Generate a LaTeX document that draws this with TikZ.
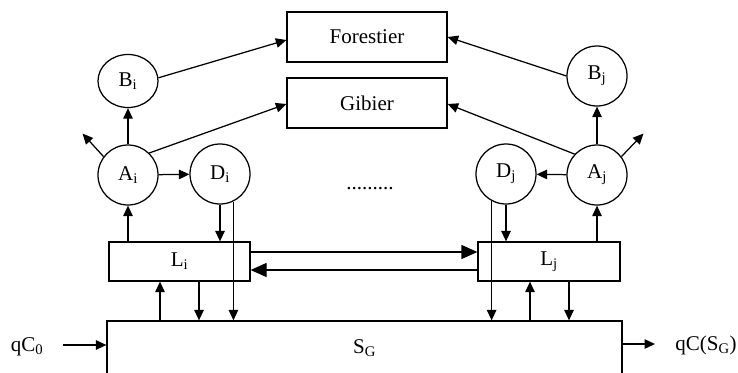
\documentclass[tikz,border=0pt]{standalone}
\usepackage{fontspec}
\setmainfont{Liberation Serif}
\usetikzlibrary{arrows.meta,calc,shapes.geometric}
\newcommand\mysb[1]{\textsubscript{#1}}
\begin{document}
\begin{tikzpicture}[x=1pt,y=-1pt, line width=1.25pt,
  font=\fontsize{21}{25}\selectfont,
  circ/.style={draw,circle,minimum size=60pt,inner sep=0pt},
  boxn/.style={draw,rectangle,inner sep=0pt},
  arr/.style={-{Triangle[length=10.5pt,width=9.5pt]}},
  bigarr/.style={-{Triangle[length=16pt,width=14pt]}}]
\useasboundingbox (0,0) rectangle (738,372);
\clip (0,0) rectangle (738,372);
% boxes
\node[boxn,minimum width=160pt,minimum height=50pt] (F) at (367,37) {Forestier};
\node[boxn,minimum width=160pt,minimum height=50pt] (G) at (367,103) {Gibier};
\node[boxn,minimum width=141pt,minimum height=39pt] (Li) at (179.5,261.5) {L\mysb{i}};
\node[boxn,minimum width=142pt,minimum height=39pt] (Lj) at (549,261.5) {L\mysb{j}};
\node[boxn,minimum width=515pt,minimum height=54pt] (SG) at (364.5,348) {S\mysb{G}};
% circles
\node[draw,ellipse,minimum width=60pt,minimum height=53pt,inner sep=0pt] (Bi) at (128,81) {B\mysb{i}};
\node[circ] (Ai) at (128,175) {A\mysb{i}};
\node[circ] (Di) at (220,174) {D\mysb{i}};
\node[circ] (Bj) at (597,76) {B\mysb{j}};
\node[circ] (Aj) at (597,175) {A\mysb{j}};
\node[circ] (Dj) at (506,174) {D\mysb{j}};
\node (dots) at (370,189) {.........};
% side labels
\node (q0) at (27,347) {qC\mysb{0}};
\node (qs) at (706,345) {qC(S\mysb{G})};
\coordinate (q0s) at (63,345);
\coordinate (qse) at (655,344);
% top arrows
\draw[arr] (Bi.6) -- ([yshift=-3pt]F.west);
\draw[arr] (Ai.46) -- ([yshift=-1pt]G.west);
\draw[arr] (Ai.143) -- ++(-21,-23);
\draw[arr] (Ai.north) -- (Bi.south);
\draw[arr] (Ai) -- (Di);
\draw[arr] (Bj.west) -- (F.east);
\draw[arr] (Aj.137) -- ([yshift=-1pt]G.east);
\draw[arr] (Aj.37) -- ++(22,-23);
\draw[arr] (Aj.north) -- (Bj.south);
\draw[arr] (Aj) -- (Dj);
% L <-> A, D
\draw[arr] (Li.north -| Ai) -- (Ai.south);
\draw[arr] (Di.south) -- (Di.south |- Li.north);
\draw[arr] (Di.-64) -- (Di.-64 |- SG.north);
\draw[arr] (Lj.north -| Aj) -- (Aj.south);
\draw[arr] (Dj.south) -- (Dj.south |- Lj.north);
\draw[arr] (Dj.-118) -- (Dj.-118 |- SG.north);
% L <-> S_G
\coordinate (li1) at ([xshift=-19.5pt]Li.south);
\coordinate (li2) at ([xshift=19.5pt]Li.south);
\coordinate (lj1) at ([xshift=-19pt]Lj.south);
\coordinate (lj2) at ([xshift=20pt]Lj.south);
\draw[arr] (li1 |- SG.north) -- (li1);
\draw[arr] (li2) -- (li2 |- SG.north);
\draw[arr] (lj1 |- SG.north) -- (lj1);
\draw[arr] (lj2) -- (lj2 |- SG.north);
% L_i <-> L_j
\draw[bigarr] ([yshift=9.5pt]Li.east) -- ([yshift=9.5pt]Lj.west);
\draw[bigarr] ([yshift=-8.5pt]Lj.west) -- ([yshift=-8.5pt]Li.east);
% in/out
\draw[arr] (q0s) -- (q0s -| SG.west);
\draw[arr] (SG.east |- qse) -- (qse);
\end{tikzpicture}
\end{document}
